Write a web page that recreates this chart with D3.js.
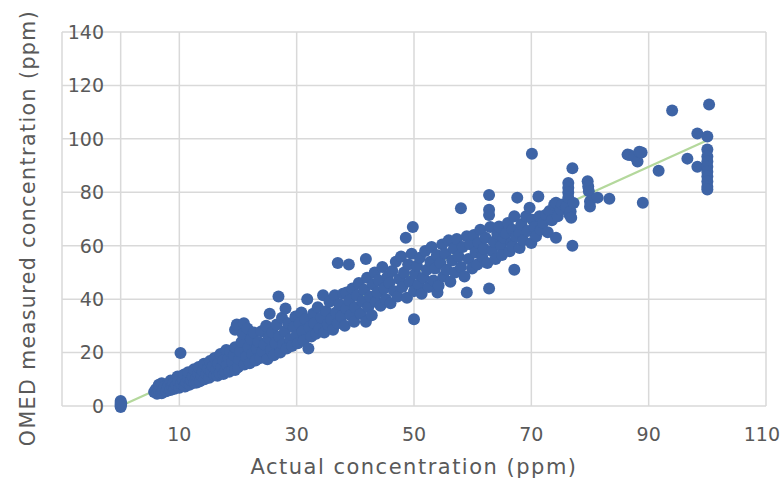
<!DOCTYPE html>
<html>
<head>
<meta charset="utf-8">
<script src="https://cdn.jsdelivr.net/npm/d3@7"></script>
<style>
  html, body { margin: 0; padding: 0; background: #fff; }
  svg { display: block; }
  text { font-family: "DejaVu Sans", sans-serif; fill: #595959; }
</style>
</head>
<body>
<svg id="chart" width="781" height="486"></svg>
<script>
// ---- data ----
const xTicks = [-10, 10, 30, 50, 70, 90, 110];
const xTickLabels = ["", "10", "30", "50", "70", "90", "110"];
const yTicks = [0, 20, 40, 60, 80, 100, 120, 140];
const yTickLabels = ["0", "20", "40", "60", "80", "100", "120", "140"];
const xTitle = "Actual concentration (ppm)";
const yTitle = "OMED measured concentration (ppm)";

// trend line endpoints
const trendX = [0, 100];
const trendY = [0, 99.5];

// measured points [actual, measured]
const points = [
[0,0],[0,0.6],[0,1.2],[0,1.9],[0,-0.4],[0.1,0.9],
[5.7,5.2],[6,6.3],[6.2,4.6],[6.5,5.8],[6.5,8],[6.8,7],[7,4.8],[7,8.5],[7.2,6],[7.5,7.3],[7.8,5.5],[8,6.8],[8.2,8],[8.5,6],[8.5,9.5],[8.8,7.4],[9,8.6],[9.2,6.5],[9.5,7.8],[9.7,11],[9.8,9.2],[10,6.8],[10.2,19.8],[10.3,8.3],[10.6,9.7],[10.8,11.8],[10.9,7.4],[11,7.3],[11.2,8.8],[11.5,10.3],[11.5,12.6],[11.8,8],[12,9.6],[12.3,11],[12.5,13.8],[12.6,8.7],[12.9,10.4],[13,8.8],[13.2,12],[13.3,14.6],[13.5,9.3],[13.8,11.2],[14,13],[14.2,15.8],[14.3,10],[14.6,12],[14.9,14],[15.1,10.6],[15.2,16.8],[15.4,12.8],[15.7,15],[16,11.5],[16,18],[16.3,13.6],[16.5,11.3],[16.6,15.8],[16.9,12.2],[17,19.5],[17.2,14.5],[17.5,17],[17.5,12],[17.8,13],[18,21],[18.1,15.4],[18.4,18],[18.5,12.8],[18.7,20.5],[19,13.8],[19,16.5],[19.3,19],[19.5,22],[19.5,13.5],[19.5,28.5],[19.8,30.5],[20,14.5],[20.2,17.5],[20.4,20.5],[20.6,24],[20.8,27],[21,31],[21.1,15.5],[21.4,18.5],[21.6,29],[21.8,22],[22,16],[22.2,25],[22.4,19.5],[22.7,27.5],[23,17],[23.2,21.5],[23.5,24],[23.8,18],[24,28],[24.2,20.5],[24.5,23],[24.8,30],[25,17.5],[25.2,25.5],[25.4,34.5],[25.6,21],[25.9,27.5],[26.1,19],[26.4,23.5],[26.6,30.5],[26.9,41],[27,26],[27.2,20],[27.5,33],[27.7,23],[28,28],[28.1,36.5],[28.3,21.5],[28.6,31],[28.9,25],[29.2,22.5],[29.5,29.5],[29.8,33.5],[30,26.5],[30.2,23.5],[30.5,31],[30.8,35],[31,28],[31.2,24.5],[31.5,32.5],[31.8,40],[32,21.5],[32.2,29.5],[32.5,26],[32.8,34.5],[33,31],[33.3,27],[33.6,37],[33.9,29],[34.2,33],[34.5,41.5],[34.7,27.5],[35,35.5],[35.3,30.5],[35.6,39],[35.9,32.5],[36.2,28.5],[36.5,41.5],[36.7,35],[37,31],[37,53.5],[37.3,38],[37.6,33.5],[37.9,42],[38.2,30],[38.5,36.5],[38.5,42.5],[38.9,53],[39,39.5],[39.2,34],[39.5,44],[39.8,31.5],[40,37],[40.3,41.5],[40.6,46],[40.9,34.5],[41.2,39],[41.5,43.5],[41.8,31.5],[41.8,55],[42,48],[42.2,37],[42.5,41],[42.8,34],[43,45.5],[43.3,50],[43.5,39],[43.8,42.5],[44,47],[44.3,37.5],[44.6,52],[44.9,44],[45.2,40],[45.5,48.5],[45.8,46],[46,38.5],[46.3,50.5],[46.6,43],[46.9,54],[47.2,41],[47.5,47.5],[47.8,56],[48,44.5],[48.3,50],[48.6,63],[48.8,40.5],[49,53],[49.3,46.5],[49.6,57],[49.8,67],[50,43],[50,32.5],[50.2,49.5],[50.5,52.5],[50.8,45.5],[51,55.5],[51.3,42],[51.6,48],[51.9,58],[52.2,51],[52.5,44.5],[52.8,54],[53,59.5],[53.3,47],[53.6,51.5],[53.9,56.5],[54,42.5],[54.2,45],[54.5,53.5],[54.8,60.5],[55,48.5],[55.3,57],[55.6,51],[55.9,62],[56.2,46.5],[56.5,54.5],[56.8,59],[57,50],[57.3,62.5],[57.6,56],[58,74],[58,52],[58.3,59.5],[58.6,48.5],[59,42.5],[59,63.5],[59.3,55],[59.6,60.5],[59.9,51.5],[60.2,64],[60.5,57.5],[60.8,53],[61,61],[61.3,66],[61.6,56],[61.9,59],[62.2,63],[62.5,53.5],[62.8,79],[62.8,73.5],[62.8,71.5],[62.8,44],[63,67],[63.3,58],[63.6,61.5],[63.9,55],[64.2,64.5],[64.5,67.2],[64.8,60],[65,56.5],[65.3,63],[65.7,64.7],[66,68.5],[66.3,57.9],[66.6,61],[66.8,66],[66.8,59.7],[67.1,71],[67.1,51],[67.4,63.5],[67.6,78],[68,64.7],[68,59.1],[68.3,68],[68.6,62],[69.1,71],[69.4,65.5],[69.7,74.2],[70,61],[70.1,94.4],[70.2,69.7],[70.5,67],[70.8,63.5],[71.2,78.4],[71.4,71],[71.6,66],[72,68.5],[72.5,71.6],[72.8,65],[73.1,73],[73.5,69.5],[73.9,75.4],[74.2,76.1],[74.2,63],[74.5,71],[75,73.5],[75.3,75.4],[75.9,74.7],[76.3,83.5],[76.3,81.7],[76.3,79.9],[76.3,78],[76.5,71.6],[76.7,72.8],[76.8,70.5],[77,89],[77,60],[77.2,76],[79.6,84.1],[79.7,82.2],[79.8,80.4],[80,76.6],[80,74.7],[81.3,78],[83.3,77.6],[86.4,94.1],[86.7,94],[87.6,93.4],[88.1,91.5],[88.4,95.2],[88.8,94.9],[89,76.1],[91.7,88.1],[94,110.6],[96.6,92.6],[98.3,102],[98.3,89.6],[100,100.9],[100.3,112.9],[100,96],[100,93.4],[100,91.5],[100,89.6],[100,87.7],[100,85.9],[100,84],[100,82.1],[100,81]
];

// ---- drawing ----
const svg = d3.select("#chart");
const x = d3.scaleLinear().domain([-10, 110]).range([62, 766]);
const y = d3.scaleLinear().domain([0, 140]).range([406, 32]);
const gridColor = "#d9d9d9";

// horizontal gridlines
svg.append("g").selectAll("line").data(yTicks).join("line")
  .attr("x1", x(-10)).attr("x2", x(110))
  .attr("y1", d => y(d)).attr("y2", d => y(d))
  .attr("stroke", gridColor).attr("stroke-width", 1.5);

// vertical gridlines
svg.append("g").selectAll("line").data(xTicks).join("line")
  .attr("x1", d => x(d)).attr("x2", d => x(d))
  .attr("y1", y(0)).attr("y2", y(140))
  .attr("stroke", gridColor).attr("stroke-width", 1.5);

// value axis line at x = 0
svg.append("line")
  .attr("x1", x(0)).attr("x2", x(0))
  .attr("y1", y(0)).attr("y2", y(140))
  .attr("stroke", gridColor).attr("stroke-width", 1.5);

// y tick labels
svg.append("g").selectAll("text").data(yTicks).join("text")
  .attr("x", 104).attr("y", d => y(d))
  .attr("dy", "0.36em")
  .attr("text-anchor", "end")
  .style("font-size", "19px")
  .text((d, i) => yTickLabels[i]);

// x tick labels (last one kept inside the frame)
svg.append("g").selectAll("text").data(xTicks).join("text")
  .attr("x", d => d === 110 ? 780 : x(d)).attr("y", 441)
  .attr("text-anchor", d => d === 110 ? "end" : "middle")
  .style("font-size", "19px")
  .text((d, i) => xTickLabels[i]);

// trend line
svg.append("line")
  .attr("x1", x(trendX[0])).attr("y1", y(trendY[0]))
  .attr("x2", x(trendX[1])).attr("y2", y(trendY[1]))
  .attr("stroke", "#b4d89c").attr("stroke-width", 2.2);

// points
svg.append("g").selectAll("circle").data(points).join("circle")
  .attr("cx", d => x(d[0])).attr("cy", d => y(d[1]))
  .attr("r", 6)
  .attr("fill", "#3e64a6");

// axis titles
svg.append("text")
  .attr("x", 414).attr("y", 474)
  .attr("text-anchor", "middle")
  .style("font-size", "21px").style("letter-spacing", "1.5px")
  .text(xTitle);

svg.append("text")
  .attr("transform", "translate(35,228) rotate(-90)")
  .attr("text-anchor", "middle")
  .style("font-size", "20.5px").style("letter-spacing", "1.45px")
  .text(yTitle);
</script>
</body>
</html>
